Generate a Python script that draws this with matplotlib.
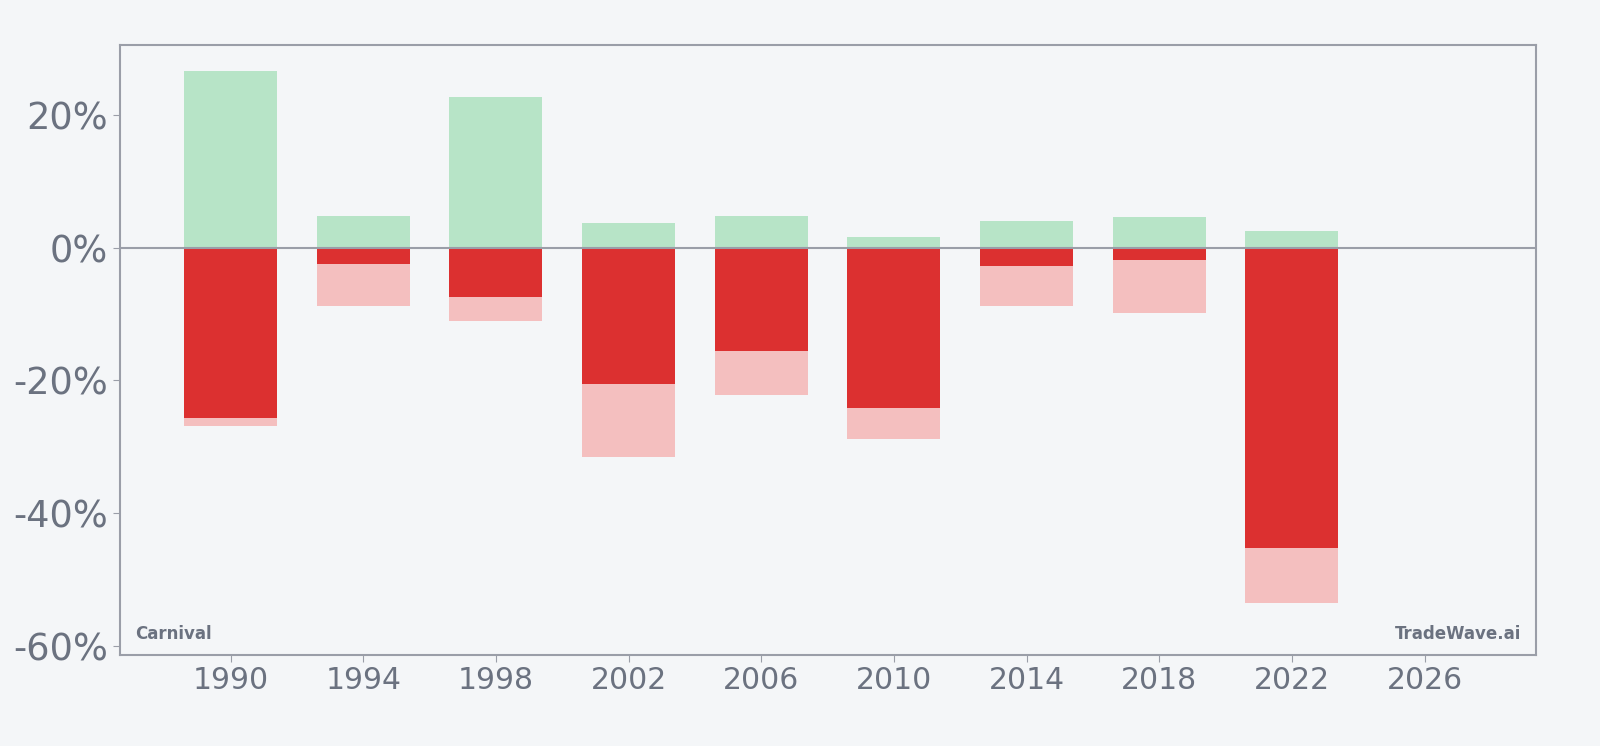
import numpy as np
import matplotlib.pyplot as plt

# yearly ranges (percent)
years = [1990, 1994, 1998, 2002, 2006, 2010, 2014, 2018, 2022]
gains = [26.6, 4.8, 22.8, 3.8, 4.8, 1.7, 4.0, 4.6, 2.6]
closes = [-25.7, -2.5, -7.4, -20.6, -15.5, -24.2, -2.8, -1.8, -45.2]
lows = [-26.9, -8.8, -11.1, -31.5, -22.2, -28.8, -8.8, -9.8, -53.5]
xticks = [1990, 1994, 1998, 2002, 2006, 2010, 2014, 2018, 2022, 2026]
yticks = [-60, -40, -20, 0, 20]

bg = "#f4f6f8"
txt = "#6b7280"
edge = "#9a9ea8"

fig = plt.figure(figsize=(16, 7.46), dpi=100, facecolor=bg)
ax = fig.add_axes([0.0753, 0.122, 0.8845, 0.8178])
ax.set_facecolor(bg)

w = 2.8
ax.bar(years, gains, width=w, color="#b7e4c7", linewidth=0, zorder=2)
ax.bar(years, lows, width=w, color="#f4bfbf", linewidth=0, zorder=2)
ax.bar(years, closes, width=w, color="#dc3030", linewidth=0, zorder=3)
ax.axhline(0, color=edge, linewidth=1.5, zorder=4)

ax.set_xlim(1986.68, 2029.35)
ax.set_ylim(-61.4, 30.6)
ax.set_xticks(xticks)
ax.set_xticklabels([str(t) for t in xticks])
ax.set_yticks(yticks)
ax.set_yticklabels([f"{t}%" for t in yticks])
ax.tick_params(axis="x", labelsize=21.5, colors=edge, labelcolor=txt, length=5, pad=3)
ax.tick_params(axis="y", labelsize=26.5, colors=edge, labelcolor=txt, length=5, pad=4)
for s in ax.spines.values():
    s.set_color(edge)
    s.set_linewidth(1.5)

ax.text(0.010, 0.02, "Carnival", transform=ax.transAxes, fontsize=12,
        fontweight="bold", color=txt, ha="left", va="bottom")
ax.text(0.990, 0.02, "TradeWave.ai", transform=ax.transAxes, fontsize=12,
        fontweight="bold", color=txt, ha="right", va="bottom")

fig.savefig("out.png", dpi=100, facecolor=bg)
